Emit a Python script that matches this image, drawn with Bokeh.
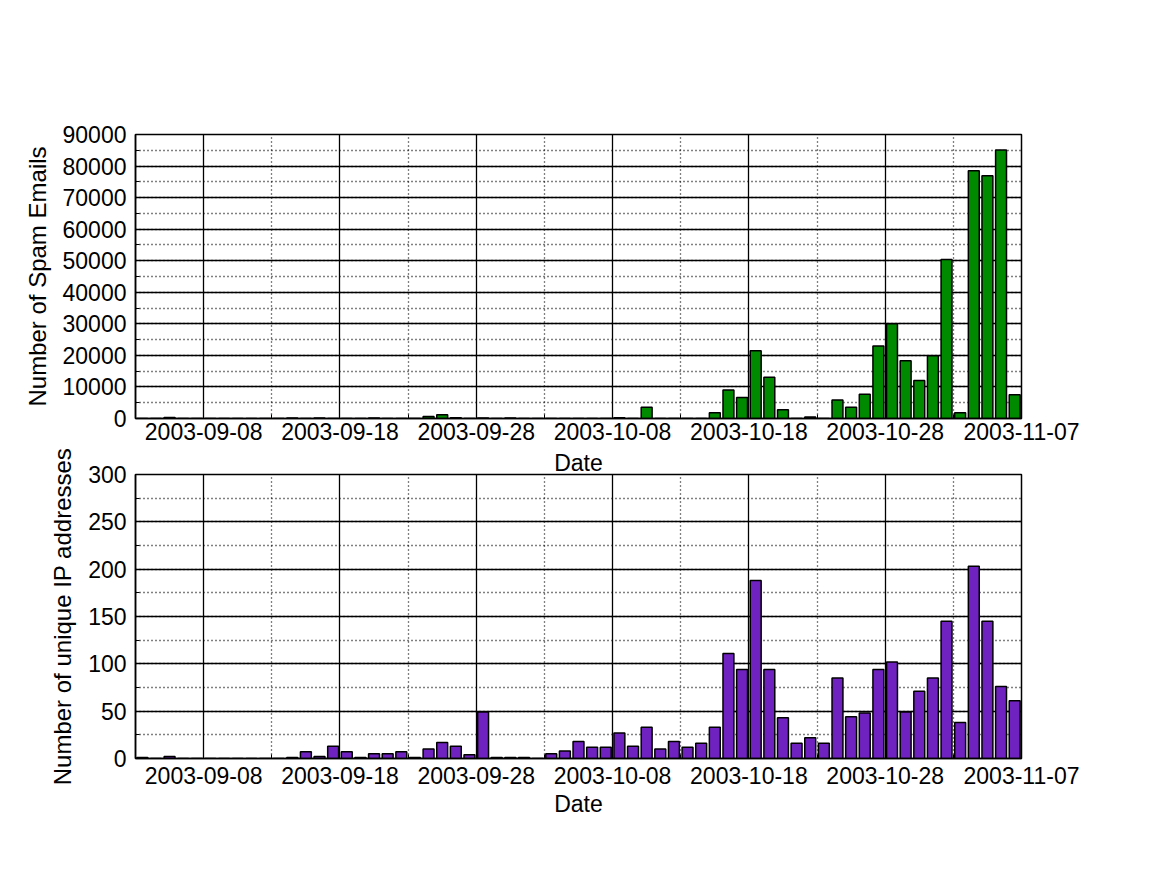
import pandas as pd
from bokeh.plotting import figure
from bokeh.layouts import column
from bokeh.models import (Range1d, FixedTicker, SingleIntervalTicker,
                          DatetimeTickFormatter, BasicTickFormatter, ColumnDataSource)
from bokeh.embed import file_html
from bokeh.resources import INLINE

# ---- data (one value per day, starting 2003-09-03) ----
start_date = "2003-09-03"
spam_emails = [0, 0, 300, 0, 0, 0, 0, 0, 0, 0,
               0, 150, 0, 150, 0, 0, 0, 150, 0, 0,
               0, 600, 1200, 200, 0, 150, 0, 150, 0, 0,
               0, 0, 0, 0, 0, 200, 0, 3600, 0, 0,
               0, 0, 1800, 9000, 6650, 21450, 13100, 2750, 0, 500,
               0, 5900, 3600, 7700, 23000, 30000, 18300, 12050, 19900, 50400,
               1800, 78500, 76900, 85050, 7500]
unique_ips = [1, 0, 2, 0, 0, 0, 0, 0, 0, 0,
              0, 1, 7, 2, 13, 7, 1, 5, 5, 7,
              1, 10, 17, 13, 4, 49, 1, 1, 1, 0,
              5, 8, 18, 12, 12, 27, 13, 33, 10, 18,
              12, 16, 33, 111, 94, 188, 94, 43, 16, 22,
              16, 85, 44, 48, 94, 102, 49, 71, 85, 145,
              38, 203, 145, 76, 61]
major_tick_dates = ["2003-09-08", "2003-09-18", "2003-09-28", "2003-10-08",
                    "2003-10-18", "2003-10-28", "2003-11-07"]
minor_tick_dates = ["2003-09-13", "2003-09-23", "2003-10-03", "2003-10-13",
                    "2003-10-23", "2003-11-02"]
x_start, x_end = "2003-09-03", "2003-11-07"
x_label = "Date"
spam_label = "Number of Spam Emails"
ip_label = "Number of unique IP addresses"

DAY_MS = 86400000.0
FONT = "Liberation Sans"
FS = "23px"
FS_YLAB = "24px"


def ms(d):
    return pd.Timestamp(d).value / 1e6


dates = pd.date_range(start_date, periods=len(spam_emails))
centers = [ms(d) + DAY_MS / 2 for d in dates]


def make_fig(values, color, ylabel, ymax, interval, top_border, bottom_border,
             show_xlabel, title=None):
    p = figure(frame_width=886, frame_height=284,
               x_range=Range1d(ms(x_start), ms(x_end)),
               y_range=Range1d(0, ymax),
               output_backend="svg", toolbar_location=None,
               min_border_left=135, min_border_right=130,
               min_border_top=top_border, min_border_bottom=bottom_border,
               background_fill_color="white", border_fill_color="white",
               title=title)
    src = ColumnDataSource(dict(x=centers, top=values))
    p.vbar(x="x", top="top", width=0.8 * DAY_MS, bottom=0, source=src,
           fill_color=color, line_color="black", line_width=1.5)

    p.xaxis.ticker = FixedTicker(ticks=[ms(d) for d in major_tick_dates],
                                 minor_ticks=[ms(d) for d in minor_tick_dates])
    fmt = "%Y-%m-%d"
    p.xaxis.formatter = DatetimeTickFormatter(
        microseconds=fmt, milliseconds=fmt, seconds=fmt, minsec=fmt,
        minutes=fmt, hourmin=fmt, hours=fmt, days=fmt, months=fmt, years=fmt)
    p.yaxis.ticker = SingleIntervalTicker(interval=interval, num_minor_ticks=2)
    p.yaxis.formatter = BasicTickFormatter(use_scientific=False)

    if show_xlabel:
        p.xaxis.axis_label = x_label
    p.yaxis.axis_label = ylabel
    for ax in (p.xaxis, p.yaxis):
        ax.axis_label_text_font = FONT
        ax.axis_label_text_font_size = FS
        ax.axis_label_text_font_style = "normal"
        ax.axis_label_text_color = "black"
        ax.major_label_text_font = FONT
        ax.major_label_text_font_size = FS
        ax.major_label_text_color = "black"
        ax.axis_line_color = "black"
        ax.axis_line_width = 1.5
        ax.major_tick_in = 8
        ax.major_tick_out = 0
        ax.minor_tick_in = 4
        ax.minor_tick_out = 0
        ax.major_tick_line_color = "black"
        ax.minor_tick_line_color = "black"
    p.yaxis.axis_label_text_font_size = FS_YLAB
    p.xaxis.major_label_standoff = 8
    p.xaxis.axis_label_standoff = 4
    p.yaxis.major_label_standoff = 9
    p.yaxis.axis_label_standoff = 9

    for g in (p.xgrid, p.ygrid):
        g.grid_line_color = "black"
        g.grid_line_width = 1.3
        g.grid_line_alpha = 1.0
        g.minor_grid_line_color = "black"
        g.minor_grid_line_dash = "1 3"
        g.minor_grid_line_width = 1.3
    p.outline_line_color = "black"
    p.outline_line_width = 1.5
    return p


# top panel: tick labels in its own canvas; its "Date" caption is the lower
# canvas's title, so the lower y-axis caption has room to overhang upward
p1 = make_fig(spam_emails, "#008a00", spam_label, 90000, 10000, 134, 31, False)
p1.xaxis.major_label_standoff = 4
p2 = make_fig(unique_ips, "#7022c0", ip_label, 300, 50, 24, 70, True, title=x_label)
p2.title.align = "center"
p2.title.text_font = FONT
p2.title.text_font_size = FS
p2.title.text_font_style = "normal"
p2.title.text_color = "black"
p2.title.standoff = -3
p2.title.offset = 0
p2.title.vertical_align = "bottom"

layout = column(p1, p2, spacing=0)
open("out.html", "w").write(file_html(layout, INLINE))
